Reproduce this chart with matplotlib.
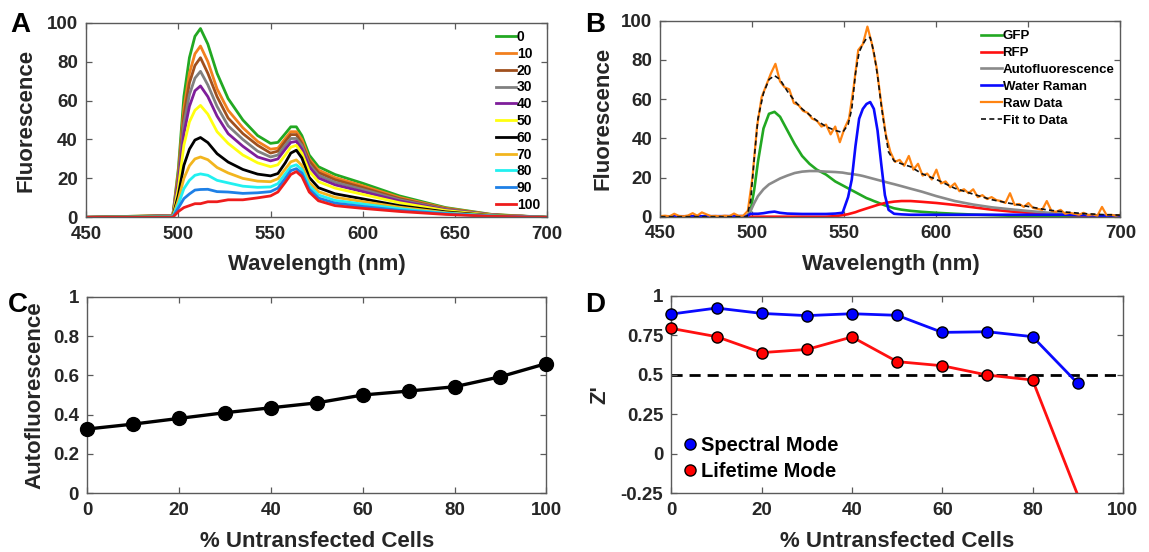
import numpy as np
import matplotlib
matplotlib.use("Agg")
import matplotlib.pyplot as plt

plt.rcParams['font.family'] = ['Liberation Sans', 'DejaVu Sans']
plt.rcParams['font.weight'] = 'bold'
plt.rcParams['axes.labelweight'] = 'bold'

TXT = '#262626'
EDGE = '#5a5a5a'

# ---- panel A: emission spectra vs % untransfected cells
wl_a = [450, 497, 500, 503, 506, 509, 512, 516, 521, 527, 535, 543, 550, 554,
        558, 561, 564, 567, 571, 576, 585, 600, 620, 645, 670, 700]
spec_0 = [0, 1, 25, 62, 82, 93, 97, 89, 74, 61, 50, 42, 38, 38.5, 43, 46.5, 46.5, 42, 32, 26, 22, 17.5, 11, 5, 1.5, 0]
spec_10 = [0, 1, 23, 56, 74, 84, 88, 80, 66, 55, 46, 39, 35, 35.5, 40.5, 44, 44, 40, 30, 24.3, 20.4, 16.2, 10.2, 4.7, 1.4, 0]
spec_20 = [0, 0.8, 21, 52, 69, 78, 82, 74, 62, 51, 43, 37, 33, 34, 39, 42.5, 42.5, 38, 29, 23, 19.3, 15.3, 9.6, 4.4, 1.3, 0]
spec_30 = [0, 0.8, 19.5, 48, 63, 71.5, 75, 68, 57, 47, 40, 34, 31, 32, 37, 40.5, 40.5, 37, 27, 21.6, 18, 14.3, 9, 4.1, 1.25, 0]
spec_40 = [0, 0.7, 18, 43, 57, 65, 67.5, 62, 52, 43, 36.5, 31, 29, 30, 35, 38.5, 39, 35, 26, 20.2, 16.7, 13.2, 8.4, 3.8, 1.2, 0]
spec_50 = [0, 0.6, 15, 37, 49, 55, 57.5, 53, 44, 38, 32, 28, 26, 27, 32, 36, 37, 33, 23.6, 18.3, 15, 11.8, 7.5, 3.5, 1.1, 0]
spec_60 = [0, 0.4, 11.4, 26.7, 35, 39.7, 41, 38.4, 32.7, 28.4, 24.6, 22.2, 21.3, 22.5, 28, 33, 34.5, 30.5, 20.5, 15.2, 12.1, 9.5, 6, 2.8, 0.9, 0]
spec_70 = [0, 0.3, 9, 20, 26.5, 30, 31, 29.6, 25.6, 22.8, 20, 18.6, 18.3, 19.8, 24.8, 28.5, 29.5, 26.7, 18, 13.2, 10.3, 8.1, 5.2, 2.4, 0.8, 0]
spec_80 = [0, 0.2, 6.7, 14.7, 19, 21.6, 22.3, 21.6, 19, 17.7, 16, 15.4, 15.6, 17.3, 22.3, 26, 27, 24.6, 16.2, 11.5, 8.7, 6.8, 4.4, 2.1, 0.7, 0]
spec_90 = [0, 0.1, 4.8, 9.6, 12, 14, 14.3, 14.4, 13.2, 13, 12.3, 12.6, 13.2, 15, 20, 24, 25, 22.7, 14.5, 9.9, 7.3, 5.6, 3.6, 1.8, 0.6, 0]
spec_100 = [0, 0, 3, 5, 6, 7, 7, 8, 8, 9, 9, 10, 11, 13, 18, 22, 23.5, 21, 13, 8.5, 6, 4.6, 3, 1.5, 0.5, 0]
spec_labels = ['0', '10', '20', '30', '40', '50', '60', '70', '80', '90', '100']
spec_colors = ['#22a822', '#f2801e', '#a0501e', '#808080', '#7e1e9a', '#ffff10',
               '#000000', '#f2b51e', '#22f0f0', '#1e80e6', '#ee1c1c']

# ---- panel B: spectral unmixing components
wl_b = [450, 497, 499, 501, 503, 506, 509, 512, 515, 519, 523, 527, 531, 535, 540,
        545, 549, 552, 554, 556, 558, 560, 562, 564, 566, 568, 570, 572, 574, 577,
        581, 586, 592, 600, 610, 620, 630, 640, 650, 660, 670, 680, 690, 700]
gfp = [0, 0, 3, 14, 28, 45, 52.5, 53.5, 51, 44, 37, 31, 27, 24, 21.5, 18, 16, 14.5, 13.5, 12.5,
       11.5, 10.5, 9.5, 8.8, 8, 7.3, 6.5, 5.8, 5.2, 4.3, 3.6, 3, 2.5, 2, 1.5, 1.1, 0.8, 0.5,
       0.3, 0.2, 0.1, 0, 0, 0]
rfp = [0, 0, 0, 0, 0, 0, 0, 0, 0, 0, 0, 0, 0, 0, 0, 0.3, 0.8, 1.3, 1.8, 2.3, 3, 3.6, 4.2, 4.8,
       5.4, 6, 6.5, 7, 7.3, 7.7, 8, 8, 7.6, 7, 6, 4.8, 3.6, 2.7, 2, 1.4, 1, 0.6, 0.4, 0.2]
autofl = [0, 0, 3, 7, 10.5, 14, 16.5, 18, 19.5, 21, 22.3, 23, 23.3, 23.3, 23, 22.8, 22.5, 22,
          21.8, 21.5, 21.2, 20.8, 20.3, 19.8, 19.3, 18.8, 18.3, 17.8, 17.3, 16.6, 15.6, 14.3,
          12.8, 10.5, 8, 6.2, 4.8, 3.8, 2.9, 2.1, 1.4, 0.9, 0.6, 0.4]
raman = [0.2, 0.3, 1.5, 1.5, 1.5, 1.8, 2.3, 2.6, 2, 1.6, 1.5, 1.4, 1.4, 1.4, 1.4, 1.6, 2, 10,
         19, 36, 50, 55, 57.5, 58.5, 55, 44, 27, 11, 3.5, 1.5, 1.2, 1, 1, 1, 1, 1, 1, 1, 1, 1,
         1, 0.8, 0.5, 0.5]
fit = [0, 0, 8, 30, 50, 63, 70, 72, 70, 64, 59, 55, 52, 49, 46, 44, 43, 47, 55, 73, 84, 88,
       91, 91.5, 84, 72, 57, 44, 33, 28.5, 27, 25.5, 22, 19, 14.5, 11.5, 8.7, 6.8, 5.2, 3.5,
       2.4, 1.6, 1.1, 0.8]
raw_wl = np.arange(450, 700.1, 2.5)
raw = [0.3, 0.5, 0.2, 1.5, 0.4, 0.2, 0.6, 1.8, 0.5, 2.2, 1.2, 0.3, 0.4, 0.2, 0.5, 0.3, 1.6, 0.4, 0.5,
       3, 20, 46, 61, 67, 73, 78, 69, 66, 65,
       58, 57, 54, 53, 50, 49, 46, 47, 42, 46,
       38, 45, 50, 66, 85, 88, 97, 88, 76, 58,
       42, 33, 28, 29, 26, 31, 24, 27, 21, 22,
       19, 24, 17, 18, 15, 17, 13, 14, 12, 14,
       10, 11, 9, 10, 8.5, 8, 7, 12, 6, 6.5,
       5, 7, 4.5, 4, 3.5, 8, 3, 2.5, 3.5, 1.5,
       2, 1.5, 1, 2, 0.8, 1.2, 0.5, 5, 0.8, 1,
       0.5, 1]

# ---- panel C: autofluorescence fraction
pct_c = [0, 10, 20, 30, 40, 50, 60, 70, 80, 90, 100]
auto_frac = [0.327, 0.352, 0.381, 0.41, 0.435, 0.46, 0.50, 0.52, 0.542, 0.593, 0.66]

# ---- panel D: Z' factor
pct_d = [0, 10, 20, 30, 40, 50, 60, 70, 80, 90]
z_spectral = [0.884, 0.922, 0.888, 0.874, 0.886, 0.876, 0.768, 0.772, 0.741, 0.446]
z_lifetime = [0.793, 0.741, 0.64, 0.66, 0.739, 0.583, 0.557, 0.498, 0.467, -0.26]


def style(ax):
    for s in ax.spines.values():
        s.set_color(EDGE)
        s.set_linewidth(1.0)
    ax.tick_params(direction='in', top=True, right=True, length=4.5, width=0.9,
                   color=EDGE, labelcolor=TXT, labelsize=13.5, pad=6)
    for lab in ax.get_xticklabels() + ax.get_yticklabels():
        lab.set_fontweight('bold')


def bold_legend(leg):
    for t in leg.get_texts():
        t.set_fontweight('bold')


fig = plt.figure(figsize=(11.49, 5.52), dpi=100)
axA = fig.add_axes([0.0750, 0.6063, 0.4011, 0.3526])
axB = fig.add_axes([0.5748, 0.6074, 0.4003, 0.3551])
axC = fig.add_axes([0.0759, 0.1063, 0.3996, 0.3562])
axD = fig.add_axes([0.5844, 0.1063, 0.3928, 0.3580])

# A
specs = [spec_0, spec_10, spec_20, spec_30, spec_40, spec_50, spec_60, spec_70, spec_80, spec_90, spec_100]
for s, lab, c in zip(specs, spec_labels, spec_colors):
    axA.plot(wl_a, s, color=c, lw=2.0, label=lab)
axA.set_xlim(450, 700)
axA.set_ylim(0, 100)
axA.set_xticks(range(450, 701, 50))
axA.set_yticks(range(0, 101, 20))
axA.set_xlabel('Wavelength (nm)', fontsize=16, color=TXT)
axA.set_ylabel('Fluorescence', fontsize=16, color=TXT)
style(axA)
bold_legend(axA.legend(loc='upper left', bbox_to_anchor=(0.889, 0.962), frameon=False,
                       fontsize=10, handlelength=1.45, handletextpad=0.05, labelspacing=0.2,
                       borderpad=0, borderaxespad=0))

# B
axB.plot(wl_b, gfp, color='#22a822', lw=1.9, label='GFP')
axB.plot(wl_b, rfp, color='#ff1010', lw=1.9, label='RFP')
axB.plot(wl_b, autofl, color='#8a8a8a', lw=1.9, label='Autofluorescence')
axB.plot(wl_b, raman, color='#0a0aff', lw=1.9, label='Water Raman')
axB.plot(raw_wl, raw, color='#ff8411', lw=1.6, label='Raw Data')
axB.plot(wl_b, fit, color='#111111', lw=1.2, ls=(0, (3, 2)), label='Fit to Data')
axB.set_xlim(450, 700)
axB.set_ylim(0, 100)
axB.set_xticks(range(450, 701, 50))
axB.set_yticks(range(0, 101, 20))
axB.set_xlabel('Wavelength (nm)', fontsize=16, color=TXT)
axB.set_ylabel('Fluorescence', fontsize=16, color=TXT)
style(axB)
bold_legend(axB.legend(loc='upper left', bbox_to_anchor=(0.698, 0.952), frameon=False,
                       fontsize=9.5, handlelength=1.55, handletextpad=0.05, labelspacing=0.35,
                       borderpad=0, borderaxespad=0))

# C
axC.plot(pct_c, auto_frac, color='black', lw=2.4, marker='o', ms=10, clip_on=False, zorder=3)
axC.set_xlim(0, 100)
axC.set_ylim(0, 1)
axC.set_xticks(range(0, 101, 20))
axC.set_yticks([0, 0.2, 0.4, 0.6, 0.8, 1])
axC.set_yticklabels(['0', '0.2', '0.4', '0.6', '0.8', '1'])
axC.set_xlabel('% Untransfected Cells', fontsize=16, color=TXT)
axC.set_ylabel('Autofluorescence', fontsize=16, color=TXT)
style(axC)

# D
axD.axhline(0.5, color='black', lw=2, ls=(0, (4, 2.5)), zorder=1)
axD.plot(pct_d, z_spectral, color='#0a0aff', lw=2, zorder=2)
axD.plot(pct_d, z_lifetime, color='#ff1010', lw=2, zorder=2)
axD.plot(pct_d, np.ma.masked_less(z_spectral, -0.25), ls='none', marker='o', ms=8,
         mfc='#0000ff', mec='black', mew=1, clip_on=False, zorder=4, label='Spectral Mode')
axD.plot(pct_d, np.ma.masked_less(z_lifetime, -0.25), ls='none', marker='o', ms=8,
         mfc='#ff0000', mec='black', mew=1, clip_on=False, zorder=4, label='Lifetime Mode')
axD.set_xlim(0, 100)
axD.set_ylim(-0.25, 1)
axD.set_xticks(range(0, 101, 20))
axD.set_yticks([-0.25, 0, 0.25, 0.5, 0.75, 1])
axD.set_yticklabels(['-0.25', '0', '0.25', '0.5', '0.75', '1'])
axD.set_xlabel('% Untransfected Cells', fontsize=16, color=TXT)
axD.set_ylabel("Z'", fontsize=16, color=TXT)
style(axD)
bold_legend(axD.legend(loc='upper left', bbox_to_anchor=(0.023, 0.29), frameon=False,
                       fontsize=14.5, handlelength=0.8, handletextpad=0.15, labelspacing=0.33,
                       borderpad=0, borderaxespad=0))

axA.yaxis.set_label_coords(-0.107, 0.5)
axB.yaxis.set_label_coords(-0.101, 0.5)
axC.yaxis.set_label_coords(-0.092, 0.5)
axD.yaxis.set_label_coords(-0.135, 0.5)
for ax in (axA, axB, axC, axD):
    ax.xaxis.set_label_coords(0.5, -0.19)

for letter, x, y in [('A', 10, 32), ('B', 585, 32), ('C', 8, 312), ('D', 585, 312)]:
    fig.text(x / 1149, 1 - y / 552, letter, fontsize=20, fontweight='bold',
             color='black', va='baseline', ha='left')

fig.savefig('out.png', dpi=100)
